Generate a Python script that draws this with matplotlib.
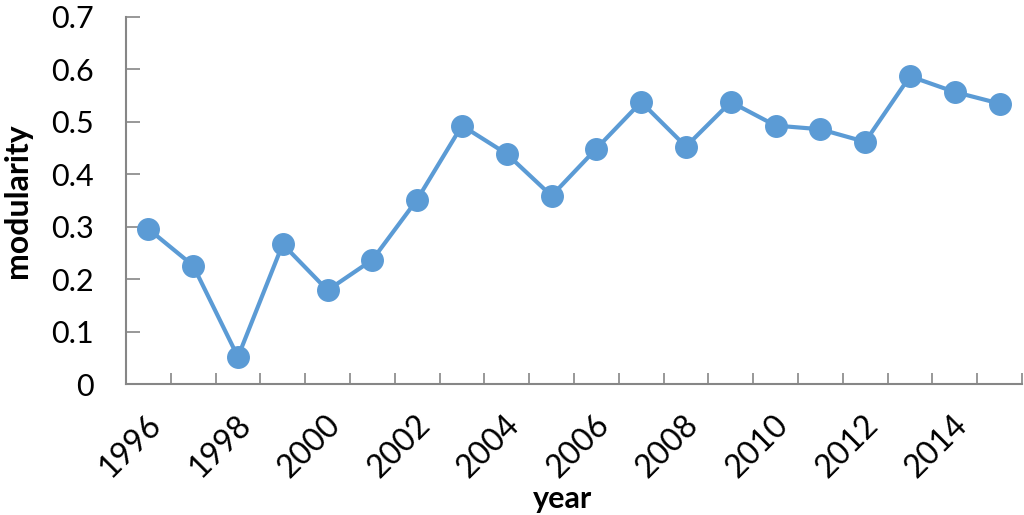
import matplotlib
matplotlib.use('Agg')
import matplotlib.pyplot as plt
from matplotlib.transforms import ScaledTranslation
import numpy as np

years = list(range(1996, 2016))
modularity = [0.296, 0.226, 0.052, 0.267, 0.179, 0.237, 0.352, 0.493, 0.439, 0.359,
              0.449, 0.538, 0.453, 0.538, 0.493, 0.486, 0.462, 0.587, 0.557, 0.535]
yTicks = [0, 0.1, 0.2, 0.3, 0.4, 0.5, 0.6, 0.7]
yLabels = ['0', '0.1', '0.2', '0.3', '0.4', '0.5', '0.6', '0.7']

plt.rcParams['font.family'] = ['Lato', 'DejaVu Sans']
axisCol = '#868686'
lineCol = '#5B9BD5'

fig = plt.figure(figsize=(10.24, 5.15), dpi=100)
ax = fig.add_axes([0.123, 0.254, 0.875, 0.713])

x = np.arange(len(years))
ax.plot(x, modularity, color=lineCol, lw=3, marker='o', ms=15.5, mec=lineCol, mfc=lineCol, zorder=3)

ax.set_xlim(-0.5, len(years) - 0.5)
ax.set_ylim(0, 0.7)

# tick marks on category boundaries, labels on every other category
ax.set_xticks(np.arange(-0.5, len(years), 1.0))
ax.set_xticklabels([])
ax.set_xticks(x[::2], minor=True)
ax.set_xticklabels([str(y) for y in years[::2]], minor=True, rotation=45,
                   ha='right', va='center', rotation_mode='anchor', fontsize=23)
ax.tick_params(axis='x', which='minor', length=0, pad=26)
ax.tick_params(axis='x', which='major', direction='in', length=8, color=axisCol, width=1.2)
for lab in ax.get_xticklabels(minor=True):
    lab.set_transform(lab.get_transform() + ScaledTranslation(0.08, 0, fig.dpi_scale_trans))

ax.set_yticks(yTicks)
ax.set_yticklabels(yLabels, fontsize=22)
ax.tick_params(axis='y', direction='in', length=10, color=axisCol, width=1.2, pad=23)

for s in ['top', 'right']:
    ax.spines[s].set_visible(False)
for s in ['left', 'bottom']:
    ax.spines[s].set_color(axisCol)
    ax.spines[s].set_linewidth(1.5)

ax.set_ylabel('modularity', fontsize=23, fontweight='bold')
ax.yaxis.set_label_coords(-0.105, 0.5)
ax.set_xlabel('year', fontsize=22, fontweight='bold', va='bottom')
ax.xaxis.set_label_coords(0.487, -0.35)

fig.savefig('out.png', dpi=100)
